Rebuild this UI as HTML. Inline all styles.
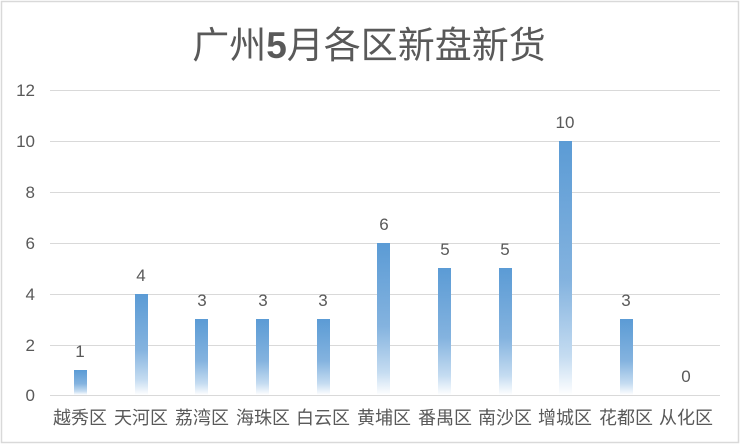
<!DOCTYPE html><html><head><meta charset="utf-8"><style>body{margin:0;background:#fff}svg{display:block}text{font-family:"Liberation Sans","Noto Sans CJK SC",sans-serif;fill:#595959}</style></head><body>
<svg width="740" height="445" viewBox="0 0 740 445">
<defs><linearGradient id="g" x1="0" y1="0" x2="0" y2="1"><stop offset="0" stop-color="#5b9bd5"/><stop offset="0.55" stop-color="#84b3df"/><stop offset="0.85" stop-color="#c5dcf1"/><stop offset="1" stop-color="#ffffff"/></linearGradient></defs>
<rect x="1.5" y="1.5" width="737" height="441" fill="#fff" stroke="#d9d9d9" stroke-width="1.5"/>
<text x="369" y="58" font-size="37" text-anchor="middle" fill="#595959">广州<tspan font-weight="bold">5</tspan>月各区新盘新货</text>
<g stroke="#d9d9d9" stroke-width="1">
<line x1="50" x2="720" y1="90.5" y2="90.5"/><line x1="50" x2="720" y1="141.5" y2="141.5"/><line x1="50" x2="720" y1="192.5" y2="192.5"/><line x1="50" x2="720" y1="243.5" y2="243.5"/><line x1="50" x2="720" y1="294.5" y2="294.5"/><line x1="50" x2="720" y1="345.5" y2="345.5"/><line x1="50" x2="720" y1="395.5" y2="395.5"/></g>
<g font-size="17" text-anchor="end"><text x="35" y="96">12</text><text x="35" y="147">10</text><text x="35" y="198">8</text><text x="35" y="249">6</text><text x="35" y="300">4</text><text x="35" y="351">2</text><text x="35" y="401">0</text></g>
<g fill="url(#g)">
<rect x="74" y="370" width="13" height="25"/>
<rect x="135" y="294" width="13" height="101"/>
<rect x="195" y="319" width="13" height="76"/>
<rect x="256" y="319" width="13" height="76"/>
<rect x="317" y="319" width="13" height="76"/>
<rect x="377" y="243" width="13" height="152"/>
<rect x="438" y="268" width="13" height="127"/>
<rect x="499" y="268" width="13" height="127"/>
<rect x="559" y="141" width="13" height="254"/>
<rect x="620" y="319" width="13" height="76"/>
</g>
<g font-size="17" text-anchor="middle">
<text x="80" y="357">1</text><text x="141" y="281">4</text><text x="202" y="306">3</text><text x="263" y="306">3</text><text x="323" y="306">3</text><text x="384" y="230">6</text><text x="445" y="255">5</text><text x="505" y="255">5</text><text x="565" y="128">10</text><text x="626" y="306">3</text><text x="686" y="382">0</text>
</g>
<g font-size="18" text-anchor="middle">
<text x="80" y="424">越秀区</text><text x="141" y="424">天河区</text><text x="202" y="424">荔湾区</text><text x="263" y="424">海珠区</text><text x="323" y="424">白云区</text><text x="384" y="424">黄埔区</text><text x="445" y="424">番禺区</text><text x="505" y="424">南沙区</text><text x="565" y="424">增城区</text><text x="626" y="424">花都区</text><text x="686" y="424">从化区</text>
</g>
</svg></body></html>
